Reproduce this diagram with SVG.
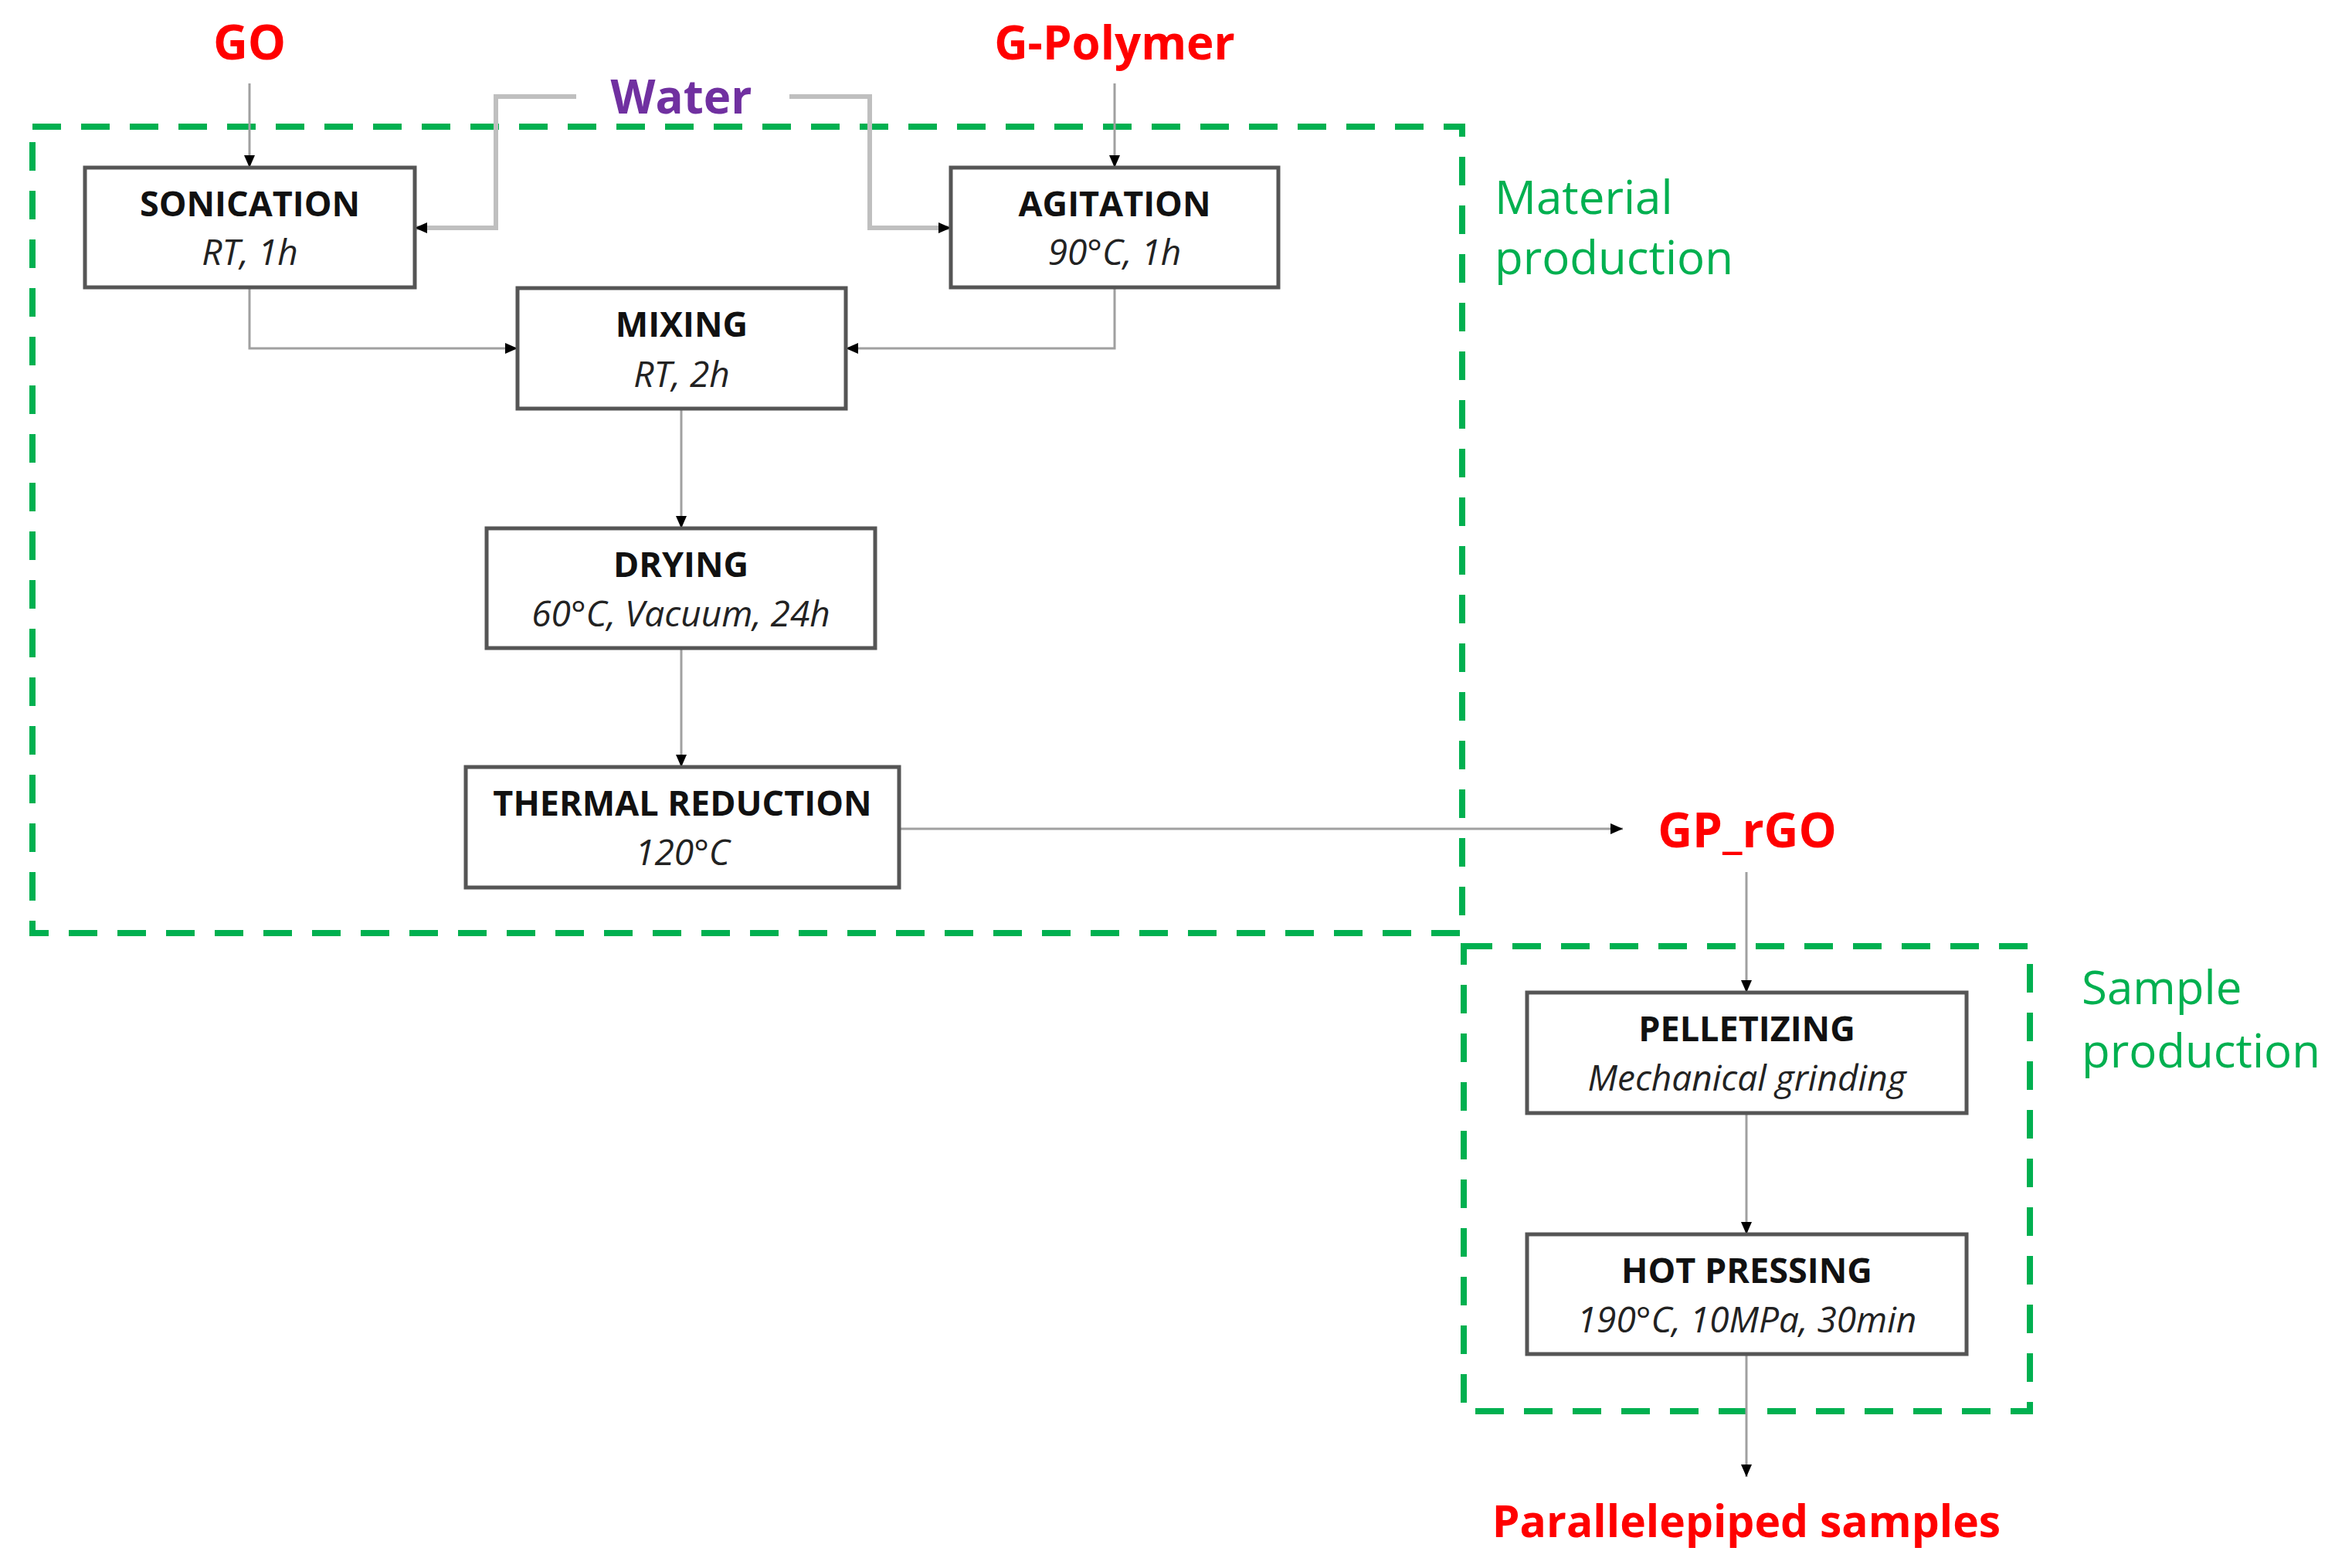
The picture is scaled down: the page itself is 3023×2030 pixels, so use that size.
<svg xmlns="http://www.w3.org/2000/svg" width="3023" height="2030" viewBox="0 0 3023 2030">
<defs>
<marker id="arr" viewBox="0 0 16 14" refX="16" refY="7" markerWidth="16" markerHeight="14" markerUnits="userSpaceOnUse" orient="auto">
<path d="M0,0 L16,7 L0,14 z" fill="#000"/>
</marker>
<style>
.box{fill:#fff;stroke:#555;stroke-width:5}
.title{font-family:"Open Sans","Liberation Sans",sans-serif;font-weight:700;font-size:45px;fill:#111;text-anchor:middle}
.sub{font-family:"Open Sans","Liberation Sans",sans-serif;font-style:italic;font-size:46px;fill:#222;text-anchor:middle}
.red{font-family:"Open Sans","Liberation Sans",sans-serif;font-weight:700;font-size:62px;fill:#ff0000;text-anchor:middle}
.grp{fill:none;stroke:#00b050;stroke-width:8;stroke-dasharray:37 26}
.glabel{font-family:"Open Sans","Liberation Sans",sans-serif;font-size:60px;fill:#00b050}
.con{fill:none;stroke:#a0a0a0;stroke-width:3;marker-end:url(#arr)}
.wat{fill:none;stroke:#bfbfbf;stroke-width:6}
</style>
</defs>
<rect width="3023" height="2030" fill="#fff"/>

<g id="group-material">
<rect class="grp" x="42" y="164" width="1851" height="1044"/>
<text class="glabel" x="1935" y="277">Material</text>
<text class="glabel" x="1935" y="355">production</text>
</g>
<g id="group-sample">
<rect class="grp" x="1895" y="1225" width="733" height="602"/>
<text class="glabel" x="2695" y="1300">Sample</text>
<text class="glabel" x="2695" y="1382">production</text>
</g>

<g id="connectors">
<path class="con" d="M323,108 V217"/>
<path class="con" d="M1443,108 V217"/>
<path class="wat" d="M746,125 H642 V295 H552"/>
<path class="con" d="M554,295 H537" style="stroke:#bfbfbf;stroke-width:6"/>
<path class="wat" d="M1022,125 H1126 V295 H1216"/>
<path class="con" d="M1214,295 H1231" style="stroke:#bfbfbf;stroke-width:6"/>
<path class="con" d="M323,372 V451 H670"/>
<path class="con" d="M1443,372 V451 H1095"/>
<path class="con" d="M882,529 V684"/>
<path class="con" d="M882,839 V993"/>
<path class="con" d="M1164,1073 H2101"/>
<path class="con" d="M2261,1129 V1285"/>
<path class="con" d="M2261,1441 V1598"/>
<path class="con" d="M2261,1753 V1912"/>
</g>

<g id="go"><text class="red" x="323" y="77">GO</text></g>
<g id="gpolymer"><text class="red" x="1443" y="77" style="font-size:60px">G-Polymer</text></g>
<g id="water"><text x="882" y="147" text-anchor="middle" font-family="'Open Sans','Liberation Sans',sans-serif" font-weight="700" font-size="60" fill="#7030a0">Water</text></g>

<g id="sonication">
<rect class="box" x="110" y="217" width="427" height="155"/>
<text class="title" x="323.5" y="280">SONICATION</text>
<text class="sub" x="323.5" y="343">RT, 1h</text>
</g>
<g id="agitation">
<rect class="box" x="1231" y="217" width="424" height="155"/>
<text class="title" x="1443" y="280">AGITATION</text>
<text class="sub" x="1443" y="343">90°C, 1h</text>
</g>
<g id="mixing">
<rect class="box" x="670" y="373" width="425" height="156"/>
<text class="title" x="882.5" y="436">MIXING</text>
<text class="sub" x="882.5" y="501">RT, 2h</text>
</g>
<g id="drying">
<rect class="box" x="630" y="684" width="503" height="155"/>
<text class="title" x="881.5" y="747">DRYING</text>
<text class="sub" x="881.5" y="811">60°C, Vacuum, 24h</text>
</g>
<g id="thermal">
<rect class="box" x="603" y="993" width="561" height="156"/>
<text class="title" x="883.5" y="1056">THERMAL REDUCTION</text>
<text class="sub" x="883.5" y="1120">120°C</text>
</g>
<g id="gprgo"><text class="red" x="2262" y="1097">GP_rGO</text></g>
<g id="pelletizing">
<rect class="box" x="1977" y="1285" width="569" height="156"/>
<text class="title" x="2261.5" y="1348">PELLETIZING</text>
<text class="sub" x="2261.5" y="1412">Mechanical grinding</text>
</g>
<g id="hotpressing">
<rect class="box" x="1977" y="1598" width="569" height="155"/>
<text class="title" x="2261.5" y="1661">HOT PRESSING</text>
<text class="sub" x="2261.5" y="1725">190°C, 10MPa, 30min</text>
</g>
<g id="samples"><text class="red" x="2261" y="1990" style="font-size:57px">Parallelepiped samples</text></g>
</svg>
